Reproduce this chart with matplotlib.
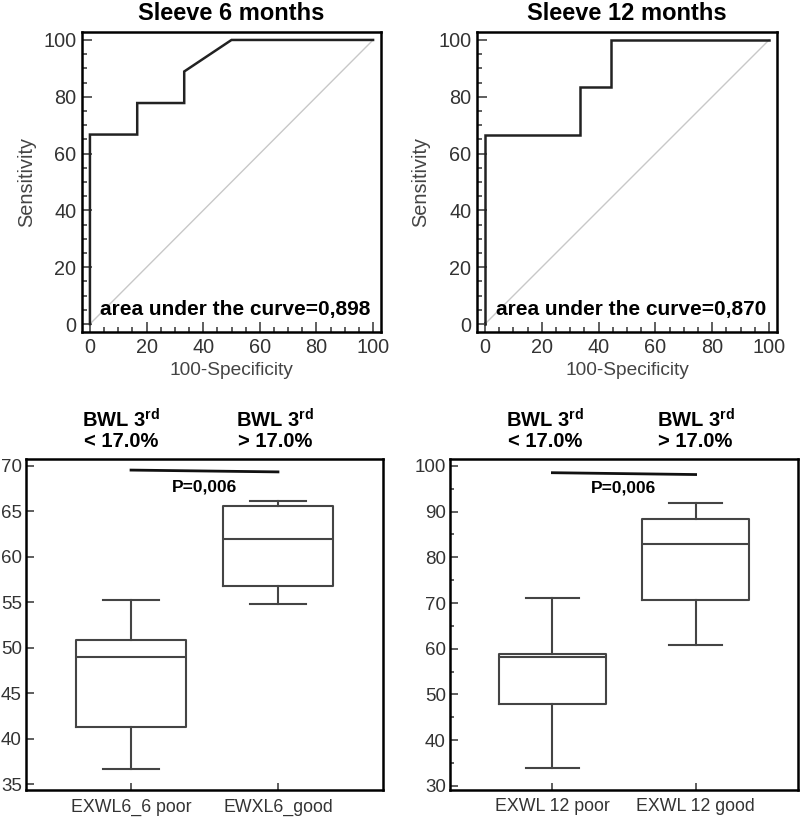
import matplotlib
matplotlib.use("Agg")
import matplotlib.pyplot as plt
import matplotlib.transforms as mtransforms
from matplotlib.ticker import MultipleLocator

plt.rcParams['font.family'] = ['Liberation Sans', 'DejaVu Sans']
plt.rcParams['mathtext.fontset'] = 'custom'
plt.rcParams['mathtext.rm'] = 'Liberation Sans'
plt.rcParams['mathtext.bf'] = 'Liberation Sans:bold'

# ROC kurver (100-specificitet, sensitivitet)
roc6_fpr = [0, 0, 16.7, 16.7, 33.3, 33.3, 50, 100]
roc6_tpr = [0, 66.7, 66.7, 77.8, 77.8, 88.9, 100, 100]
roc12_fpr = [0, 0, 33.3, 33.3, 44.4, 44.4, 100]
roc12_tpr = [0, 66.7, 66.7, 83.3, 83.3, 100, 100]
roc_titles = ["Sleeve 6 months", "Sleeve 12 months"]
roc_auc = ["area under the curve=0,898", "area under the curve=0,870"]

# boxplot statistik
box6_labels = ["EXWL6_6 poor", "EWXL6_good"]
box6_low = [36.7, 54.8]
box6_q1 = [41.3, 56.8]
box6_med = [49.0, 62.0]
box6_q3 = [50.8, 65.6]
box6_high = [55.2, 66.2]

box12_labels = ["EXWL 12 poor", "EXWL 12 good"]
box12_low = [33.9, 60.8]
box12_q1 = [48.0, 70.7]
box12_med = [58.3, 82.8]
box12_q3 = [58.8, 88.3]
box12_high = [71.2, 91.8]

group_top = [r"BWL 3$^{\mathbf{rd}}$", r"BWL 3$^{\mathbf{rd}}$"]
group_bottom = ["< 17.0%", "> 17.0%"]
p_text = "P=0,006"

W, H = 800, 817
fig = plt.figure(figsize=(8, 8.17), dpi=100)


def px_axes(x0, y0, x1, y1):
    return fig.add_axes([x0 / W, 1 - y1 / H, (x1 - x0) / W, (y1 - y0) / H])


def style_frame(ax):
    for s in ax.spines.values():
        s.set_linewidth(1.8)
        s.set_color("black")


def draw_roc(ax, fpr, tpr, title, auc):
    ax.plot([0, 100], [0, 100], color="#c8c8c8", lw=1)
    ax.plot(fpr, tpr, color="#222222", lw=1.8, solid_joinstyle="miter")
    ax.set_xlim(-2.8, 102.8)
    ax.set_ylim(-2.8, 102.8)
    ax.xaxis.set_major_locator(MultipleLocator(20))
    ax.yaxis.set_major_locator(MultipleLocator(20))
    ax.xaxis.set_minor_locator(MultipleLocator(5))
    ax.yaxis.set_minor_locator(MultipleLocator(5))
    ax.tick_params(which="both", direction="in", colors="#333333", labelsize=14.3, width=1.1)
    ax.tick_params(which="major", length=7, pad=4)
    ax.tick_params(which="minor", length=3.5)
    style_frame(ax)
    ax.set_title(title, fontsize=17, fontweight="bold", pad=8.5)
    ax.set_xlabel("100-Specificity", fontsize=13.8, color="#444444")
    ax.set_ylabel("Sensitivity", fontsize=14.3, color="#444444")
    ax.xaxis.set_label_coords(0.5, -0.1)
    ax.yaxis.set_label_coords(-0.155, 0.5)
    ax.text(99, 5, auc, ha="right", va="center", fontsize=15, fontweight="bold")


def draw_box(ax, labels, low, q1, med, q3, high, ylim, major, minor, bar, p_y, tx):
    stats = []
    for i in range(len(labels)):
        stats.append({"whislo": low[i], "q1": q1[i], "med": med[i], "q3": q3[i],
                      "whishi": high[i], "label": labels[i]})
    lc = "#444444"
    ax.bxp(stats, positions=[1, 2], widths=0.75, showfliers=False,
           boxprops=dict(color=lc, lw=1.5),
           medianprops=dict(color=lc, lw=1.5),
           whiskerprops=dict(color=lc, lw=1.5),
           capprops=dict(color=lc, lw=1.5))
    ax.set_xlim(0.285, 2.715)
    ax.set_ylim(*ylim)
    ax.yaxis.set_major_locator(MultipleLocator(major))
    if minor:
        ax.yaxis.set_minor_locator(MultipleLocator(minor))
    ax.tick_params(which="both", direction="in", colors="#333333", width=1.1)
    ax.tick_params(axis="y", which="major", length=6, pad=3, labelsize=13.5)
    ax.tick_params(axis="y", which="minor", length=3)
    ax.tick_params(axis="x", which="major", length=5, pad=6, labelsize=12.8)
    style_frame(ax)
    # signifikans-linje
    ax.plot([1, 2], bar, color="#111111", lw=2)
    ax.text(1.5, p_y, p_text, ha="center", va="center", fontsize=12.5, fontweight="bold")
    trans = mtransforms.blended_transform_factory(ax.transData, ax.transAxes)
    for i in range(2):
        ax.text(tx[i], 1.118, group_top[i], transform=trans, ha="center", va="center",
                fontsize=14.5, fontweight="bold")
        ax.text(tx[i], 1.052, group_bottom[i], transform=trans, ha="center", va="center",
                fontsize=14.5, fontweight="bold")


ax1 = px_axes(82, 32, 381, 332)
draw_roc(ax1, roc6_fpr, roc6_tpr, roc_titles[0], roc_auc[0])
ax2 = px_axes(477, 32, 777, 332)
draw_roc(ax2, roc12_fpr, roc12_tpr, roc_titles[1], roc_auc[1])

ax3 = px_axes(26, 459, 383, 790)
draw_box(ax3, box6_labels, box6_low, box6_q1, box6_med, box6_q3, box6_high,
         (34.34, 70.77), 5, None, [69.55, 69.35], 67.7, [0.93, 1.98])
ax4 = px_axes(450, 459, 798, 790)
draw_box(ax4, box12_labels, box12_low, box12_q1, box12_med, box12_q3, box12_high,
         (29.1, 101.5), 10, 5, [98.5, 98.1], 95.2, [0.95, 2.0])

fig.savefig("out.png", dpi=100, facecolor="white")
